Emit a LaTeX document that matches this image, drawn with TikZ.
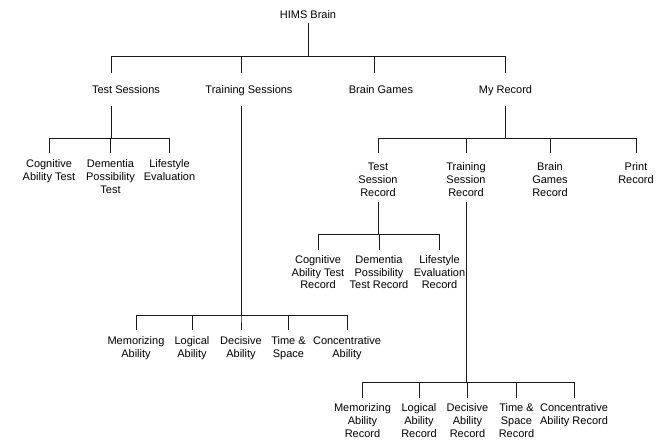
\documentclass[tikz,border=0pt]{standalone}
\usepackage{fontspec}
\setmainfont{Liberation Sans}
\usepackage{tikz}
\tikzset{
  item/.style={
    anchor=north,
    inner sep=0pt,
    align=center,
    font=\fontsize{11}{12.9}\selectfont,
  },
  link/.style={
    line width=0.9pt,
    draw=black!90,
  },
}

\begin{document}
\begin{tikzpicture}[x=1pt, y=-1pt]
  \useasboundingbox (0,0) rectangle (662,440);

  % Root
  \node[item] (root) at (308,10) {HIMS Brain};

  % Row 1 — main menu
  \node[item] (ts)  at (126,85)   {Test Sessions};
  \node[item] (trs) at (249,85)   {Training Sessions};
  \node[item] (bg)  at (381,85)   {Brain Games};
  \node[item] (mr)  at (505.5,85) {My Record};

  \draw[link, shorten <=4.8pt, shorten >=12.3pt] (root.south) -- ++(0,37.8) -| ([xshift=-15pt]ts.north);
  \draw[link, shorten <=4.8pt, shorten >=12.3pt] (root.south) -- ++(0,37.8) -| ([xshift=-8pt]trs.north);
  \draw[link, shorten <=4.8pt, shorten >=12.3pt] (root.south) -- ++(0,37.8) -| ([xshift=-7pt]bg.north);
  \draw[link, shorten <=4.8pt, shorten >=12.3pt] (root.south) -- ++(0,37.8) -| (mr.north);

  % Row 2 — test sessions
  \node[item] (cat) at (49,159.3)    {Cognitive\\Ability Test};
  \node[item] (dpt) at (110.5,159.3) {Dementia\\Possibility\\Test};
  \node[item] (lse) at (169.5,159.3) {Lifestyle\\Evaluation};

  \draw[link, shorten <=12.8pt, shorten >=6.3pt] ([xshift=-15pt]ts.south) -- ++(0,45.1) -| (cat.north);
  \draw[link, shorten <=12.8pt, shorten >=6.3pt] ([xshift=-15pt]ts.south) -- ++(0,45.1) -| (dpt.north);
  \draw[link, shorten <=12.8pt, shorten >=6.3pt] ([xshift=-15pt]ts.south) -- ++(0,45.1) -| (lse.north);

  % Row 2 — my record
  \node[item] (tsr)  at (378,162.7) {Test\\Session\\Record};
  \node[item] (trsr) at (466,162.7) {Training\\Session\\Record};
  \node[item] (bgr)  at (550,162.7) {Brain\\Games\\Record};
  \node[item] (pr)   at (636,162.7) {Print\\Record};

  \draw[link, shorten <=10.5pt, shorten >=9.7pt] (mr.south) -- ++(0,42.5) -| (tsr.north);
  \draw[link, shorten <=10.5pt, shorten >=9.7pt] (mr.south) -- ++(0,42.5) -| (trsr.north);
  \draw[link, shorten <=10.5pt, shorten >=9.7pt] (mr.south) -- ++(0,42.5) -| (bgr.north);
  \draw[link, shorten <=10.5pt, shorten >=9.7pt] (mr.south) -- ++(0,42.5) -| (pr.north);

  % Row 3 — test session records
  \node[item] (catr) at (318,255)   {Cognitive\\Ability Test\\Record};
  \node[item] (dptr) at (379,255)   {Dementia\\Possibility\\Test Record};
  \node[item] (lser) at (439.5,255) {Lifestyle\\Evaluation\\Record};

  \draw[link, shorten <=5.5pt, shorten >=5pt] (tsr.south) -- ++(0,38.1) -| (catr.north);
  \draw[link, shorten <=5.5pt, shorten >=5pt] (tsr.south) -- ++(0,38.1) -| (dptr.north);
  \draw[link, shorten <=5.5pt, shorten >=5pt] (tsr.south) -- ++(0,38.1) -| (lser.north);

  % Row 4 — training sessions
  \node[item] (ma)  at (136,336)   {Memorizing\\Ability};
  \node[item] (la)  at (192,336)   {Logical\\Ability};
  \node[item] (da)  at (241,336)   {Decisive\\Ability};
  \node[item] (tsp) at (288.5,336) {Time \&\\Space};
  \node[item] (ca)  at (347,336)   {Concentrative\\Ability};

  \draw[link, shorten <=10.5pt, shorten >=6pt] ([xshift=-8pt]trs.south) -- ++(0,219.8) -| (ma.north);
  \draw[link, shorten <=10.5pt, shorten >=6pt] ([xshift=-8pt]trs.south) -- ++(0,219.8) -| (la.north);
  \draw[link, shorten <=10.5pt, shorten >=6pt] ([xshift=-8pt]trs.south) -- ++(0,219.8) -| (da.north);
  \draw[link, shorten <=10.5pt, shorten >=6pt] ([xshift=-8pt]trs.south) -- ++(0,219.8) -| (tsp.north);
  \draw[link, shorten <=10.5pt, shorten >=6pt] ([xshift=-8pt]trs.south) -- ++(0,219.8) -| (ca.north);

  % Row 5 — training session records
  \node[item] (mar)  at (362.5,403.7) {Memorizing\\Ability\\Record};
  \node[item] (lar)  at (419,403.7)   {Logical\\Ability\\Record};
  \node[item] (dar)  at (467.5,403.7) {Decisive\\Ability\\Record};
  \node[item] (tspr) at (516.5,403.7) {Time \&\\Space\\Record};
  \node[item] (car)  at (574,403.7)   {Concentrative\\Ability Record};

  \draw[link, shorten <=5.5pt, shorten >=5.4pt] (trsr.south) -- ++(0,185.5) -| (mar.north);
  \draw[link, shorten <=5.5pt, shorten >=5.4pt] (trsr.south) -- ++(0,185.5) -| (lar.north);
  \draw[link, shorten <=5.5pt, shorten >=5.4pt] (trsr.south) -- ++(0,185.5) -| (dar.north);
  \draw[link, shorten <=5.5pt, shorten >=5.4pt] (trsr.south) -- ++(0,185.5) -| (tspr.north);
  \draw[link, shorten <=5.5pt, shorten >=5.4pt] (trsr.south) -- ++(0,185.5) -| (car.north);
\end{tikzpicture}
\end{document}
